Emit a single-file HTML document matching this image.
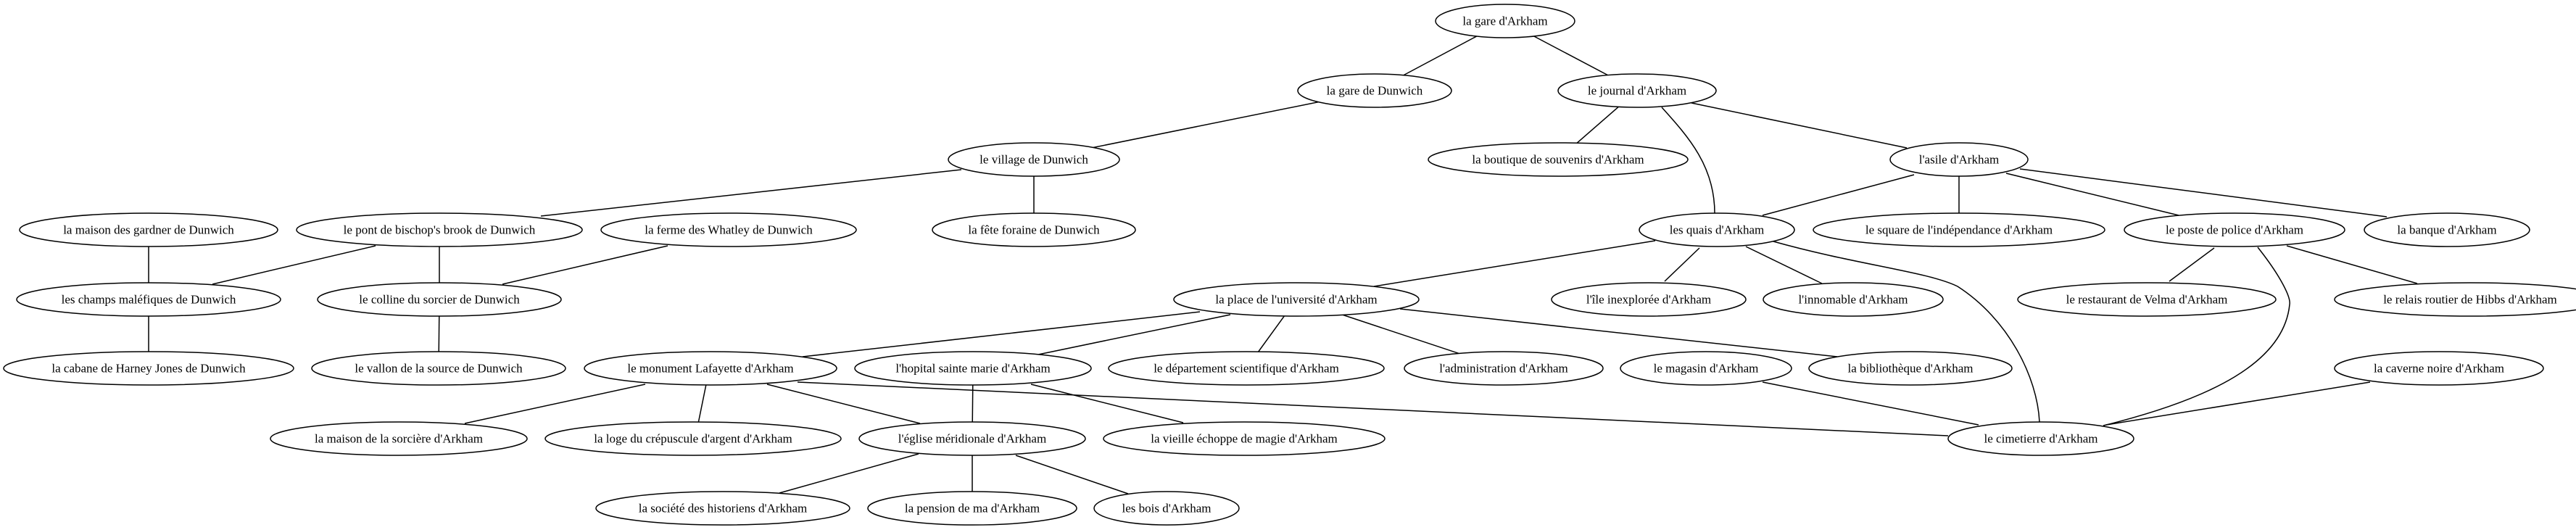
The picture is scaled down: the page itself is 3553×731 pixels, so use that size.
<!DOCTYPE html>
<html><head><meta charset="utf-8"><style>
html,body{margin:0;padding:0;background:#fff;}
svg{display:block;}
text{font-family:"Liberation Serif",serif;font-size:17px;fill:#000;text-anchor:middle;dominant-baseline:central;}
.e line,.e path{stroke:#000;stroke-width:1.5;fill:none;}
ellipse{fill:#fff;stroke:#000;stroke-width:1.5;}
</style></head><body>
<svg width="3553" height="731" viewBox="0 0 3553 731" xmlns="http://www.w3.org/2000/svg">
<g class="e">
<line x1="2076" y1="29" x2="1896" y2="125"/>
<line x1="2076" y1="29" x2="2258" y2="125"/>
<line x1="1896" y1="125" x2="1426" y2="220"/>
<line x1="2258" y1="125" x2="2149" y2="220"/>
<line x1="2333" y1="142" x2="2630" y2="204"/>
<path d="M2292,148 C2330,190 2365,230 2365,294"/>
<line x1="1326" y1="234" x2="746" y2="298"/>
<line x1="1426" y1="220" x2="1426" y2="317"/>
<line x1="518" y1="339" x2="293" y2="392"/>
<line x1="606" y1="317" x2="606" y2="413"/>
<line x1="921" y1="339" x2="693" y2="392"/>
<line x1="205" y1="317" x2="205" y2="413"/>
<line x1="205" y1="413" x2="205" y2="508"/>
<line x1="606" y1="413" x2="605" y2="508"/>
<line x1="2640" y1="241" x2="2431" y2="297"/>
<line x1="2702" y1="220" x2="2702" y2="317"/>
<line x1="2767" y1="239" x2="3005" y2="297"/>
<line x1="2786" y1="233" x2="3292" y2="299"/>
<line x1="2283" y1="332" x2="1895" y2="395"/>
<line x1="2344" y1="342" x2="2296" y2="388"/>
<line x1="2408" y1="340" x2="2513" y2="391"/>
<path d="M2446,333 C2560,365 2660,375 2700,395 C2770,440 2810,520 2813,582"/>
<line x1="3054" y1="342" x2="2992" y2="388"/>
<line x1="3154" y1="339" x2="3334" y2="391"/>
<path d="M3114,341 C3145,380 3160,410 3158,420 C3150,500 3050,550 2901,587"/>
<line x1="1655" y1="430" x2="1107" y2="492"/>
<line x1="1697" y1="434" x2="1432" y2="489"/>
<line x1="1788" y1="413" x2="1719" y2="508"/>
<line x1="1788" y1="413" x2="2074" y2="508"/>
<line x1="1931" y1="426" x2="2534" y2="492"/>
<line x1="1100" y1="527" x2="2687" y2="601"/>
<line x1="890" y1="530" x2="641" y2="584"/>
<line x1="974" y1="530" x2="963" y2="584"/>
<line x1="1058" y1="530" x2="1269" y2="584"/>
<line x1="1342" y1="508" x2="1341" y2="605"/>
<line x1="1422" y1="530" x2="1632" y2="583"/>
<line x1="2431" y1="527" x2="2729" y2="586"/>
<line x1="3269" y1="527" x2="2905" y2="586"/>
<line x1="1267" y1="626" x2="1075" y2="680"/>
<line x1="1341" y1="605" x2="1341" y2="701"/>
<line x1="1401" y1="628" x2="1556" y2="681"/>
</g>
<g>
<ellipse cx="2076" cy="29" rx="96" ry="23"/><text x="2076" y="29">la gare d'Arkham</text>
<ellipse cx="1896" cy="125" rx="106" ry="23"/><text x="1896" y="125">la gare de Dunwich</text>
<ellipse cx="2258" cy="125" rx="109" ry="23"/><text x="2258" y="125">le journal d'Arkham</text>
<ellipse cx="1426" cy="220" rx="118" ry="23"/><text x="1426" y="220">le village de Dunwich</text>
<ellipse cx="2149" cy="220" rx="179" ry="23"/><text x="2149" y="220">la boutique de souvenirs d'Arkham</text>
<ellipse cx="2702" cy="220" rx="95" ry="23"/><text x="2702" y="220">l'asile d'Arkham</text>
<ellipse cx="205" cy="317" rx="178" ry="23"/><text x="205" y="317">la maison des gardner de Dunwich</text>
<ellipse cx="606" cy="317" rx="197" ry="23"/><text x="606" y="317">le pont de bischop's brook de Dunwich</text>
<ellipse cx="1005" cy="317" rx="176" ry="23"/><text x="1005" y="317">la ferme des Whatley de Dunwich</text>
<ellipse cx="1426" cy="317" rx="140" ry="23"/><text x="1426" y="317">la fête foraine de Dunwich</text>
<ellipse cx="2368" cy="317" rx="107" ry="23"/><text x="2368" y="317">les quais d'Arkham</text>
<ellipse cx="2702" cy="317" rx="201" ry="23"/><text x="2702" y="317">le square de l'indépendance d'Arkham</text>
<ellipse cx="3082" cy="317" rx="152" ry="23"/><text x="3082" y="317">le poste de police d'Arkham</text>
<ellipse cx="3375" cy="317" rx="114" ry="23"/><text x="3375" y="317">la banque d'Arkham</text>
<ellipse cx="205" cy="413" rx="182" ry="23"/><text x="205" y="413">les champs maléfiques de Dunwich</text>
<ellipse cx="606" cy="413" rx="168" ry="23"/><text x="606" y="413">le colline du sorcier de Dunwich</text>
<ellipse cx="1788" cy="413" rx="169" ry="23"/><text x="1788" y="413">la place de l'université d'Arkham</text>
<ellipse cx="2274" cy="413" rx="134" ry="23"/><text x="2274" y="413">l'île inexplorée d'Arkham</text>
<ellipse cx="2556" cy="413" rx="124" ry="23"/><text x="2556" y="413">l'innomable d'Arkham</text>
<ellipse cx="2961" cy="413" rx="178" ry="23"/><text x="2961" y="413">le restaurant de Velma d'Arkham</text>
<ellipse cx="3407" cy="413" rx="187" ry="23"/><text x="3407" y="413">le relais routier de Hibbs d'Arkham</text>
<ellipse cx="205" cy="508" rx="200" ry="23"/><text x="205" y="508">la cabane de Harney Jones de Dunwich</text>
<ellipse cx="605" cy="508" rx="175" ry="23"/><text x="605" y="508">le vallon de la source de Dunwich</text>
<ellipse cx="980" cy="508" rx="174" ry="23"/><text x="980" y="508">le monument Lafayette d'Arkham</text>
<ellipse cx="1342" cy="508" rx="163" ry="23"/><text x="1342" y="508">l'hopital sainte marie d'Arkham</text>
<ellipse cx="1719" cy="508" rx="190" ry="23"/><text x="1719" y="508">le département scientifique d'Arkham</text>
<ellipse cx="2074" cy="508" rx="137" ry="23"/><text x="2074" y="508">l'administration d'Arkham</text>
<ellipse cx="2353" cy="508" rx="118" ry="23"/><text x="2353" y="508">le magasin d'Arkham</text>
<ellipse cx="2635" cy="508" rx="140" ry="23"/><text x="2635" y="508">la bibliothèque d'Arkham</text>
<ellipse cx="3364" cy="508" rx="144" ry="23"/><text x="3364" y="508">la caverne noire d'Arkham</text>
<ellipse cx="550" cy="605" rx="177" ry="23"/><text x="550" y="605">la maison de la sorcière d'Arkham</text>
<ellipse cx="956" cy="605" rx="204" ry="23"/><text x="956" y="605">la loge du crépuscule d'argent d'Arkham</text>
<ellipse cx="1341" cy="605" rx="156" ry="23"/><text x="1341" y="605">l'église méridionale d'Arkham</text>
<ellipse cx="1716" cy="605" rx="194" ry="23"/><text x="1716" y="605">la vieille échoppe de magie d'Arkham</text>
<ellipse cx="2815" cy="605" rx="128" ry="23"/><text x="2815" y="605">le cimetierre d'Arkham</text>
<ellipse cx="997" cy="701" rx="175" ry="23"/><text x="997" y="701">la société des historiens d'Arkham</text>
<ellipse cx="1341" cy="701" rx="144" ry="23"/><text x="1341" y="701">la pension de ma d'Arkham</text>
<ellipse cx="1609" cy="701" rx="100" ry="23"/><text x="1609" y="701">les bois d'Arkham</text>
</g>
</svg>
</body></html>
